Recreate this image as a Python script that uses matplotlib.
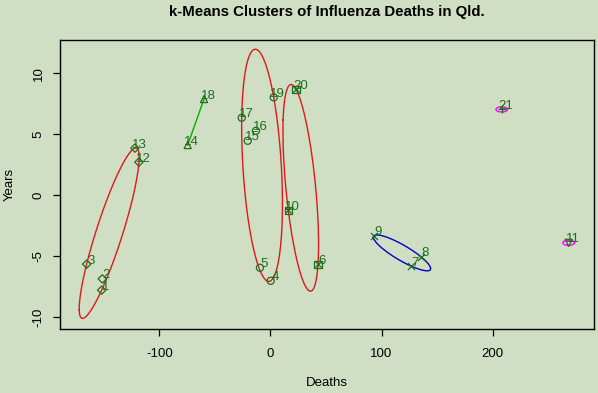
"""k-Means clusters of influenza deaths in Qld (clusplot-style figure)."""

import matplotlib

matplotlib.use("Agg", force=True)
import matplotlib.pyplot as plt
import numpy as np

# point ids, coordinates
point_ids = list(range(1, 22))
deaths = [-152.1, -151.5, -165.6, 0.2, -9.5, 42.8, 126.6, 135.6, 93.2, 16.0, 268.6,
          -118.5, -122.1, -74.6, -20.5, -13.1, -25.9, -59.9, 2.9, 23.0, 208.3]
years = [-7.81, -6.88, -5.67, -7.04, -5.97, -5.67, -5.83, -5.07, -3.34, -1.23, -3.92,
         2.71, 3.86, 4.11, 4.46, 5.28, 6.35, 7.89, 8.03, 8.69, 7.04]
cluster = [5, 5, 5, 1, 1, 7, 4, 4, 4, 7, 6, 5, 5, 2, 1, 1, 1, 2, 1, 7, 3]

# R clusplot conventions: pch = cluster number, ellipse colour by cluster
cluster_marker = {1: "o", 2: "^", 3: "+", 4: "x", 5: "D", 6: "v", 7: "s"}
cluster_colour = {1: "#dd1a1a", 2: "#00b000", 3: "magenta", 4: "#0000cc",
                  5: "#dd1a1a", 6: "magenta", 7: "#dd1a1a"}

BG = "#d0dec4"
PT = "#1f6e1f"


def mvee(points, tol=1e-6, max_iter=5000):
    """Minimum volume enclosing ellipse (Khachiyan), returns centre and shape matrix."""
    n, d = points.shape
    q = np.vstack([points.T, np.ones(n)])
    u = np.ones(n) / n
    for _ in range(max_iter):
        x = q @ np.diag(u) @ q.T
        m = np.einsum("ij,ji->i", q.T @ np.linalg.inv(x), q)
        j = np.argmax(m)
        step = (m[j] - d - 1.0) / ((d + 1.0) * (m[j] - 1.0))
        new_u = (1 - step) * u
        new_u[j] += step
        err = np.linalg.norm(new_u - u)
        u = new_u
        if err < tol:
            break
    c = u @ points
    a = np.linalg.inv(points.T @ np.diag(u) @ points - np.outer(c, c)) / d
    # make sure every point sits inside
    diff = points - c
    scale = np.max(np.einsum("ij,jk,ik->i", diff, a, diff))
    return c, a / max(scale, 1.0)


def ellipse_path(c, a, n=200):
    vals, vecs = np.linalg.eigh(a)
    t = np.linspace(0, 2 * np.pi, n)
    circ = np.vstack([np.cos(t) / np.sqrt(vals[0]), np.sin(t) / np.sqrt(vals[1])])
    pts = vecs @ circ
    return c[0] + pts[0], c[1] + pts[1]


plt.rcParams["font.family"] = ["Liberation Sans", "DejaVu Sans"]
plt.rcParams["axes.unicode_minus"] = False
fig = plt.figure(figsize=(5.98, 3.93), dpi=100, facecolor=BG)
ax = fig.add_axes([60 / 598, 64 / 393, 534 / 598, 289 / 393], facecolor=BG)

x = np.array(deaths)
y = np.array(years)
cl = np.array(cluster)
xspan = x.max() - x.min()
yspan = y.max() - y.min()

for k in sorted(set(cluster)):
    sel = cl == k
    pts = np.column_stack([x[sel], y[sel]])
    col = cluster_colour[k]
    if len(pts) == 1:
        t = np.linspace(0, 2 * np.pi, 100)
        ax.plot(pts[0, 0] + 0.012 * xspan * np.cos(t), pts[0, 1] + 0.013 * yspan * np.sin(t),
                color=col, lw=1.0)
    elif len(pts) == 2:
        ax.plot(pts[:, 0], pts[:, 1], color=col, lw=1.0)
    else:
        c, a = mvee(pts)
        ex, ey = ellipse_path(c, a)
        ax.plot(ex, ey, color=col, lw=1.0)

for k in sorted(set(cluster)):
    sel = cl == k
    mk = cluster_marker[k]
    filled = mk in ("+", "x")
    ax.scatter(x[sel], y[sel], marker=mk, s=26 if mk != "D" else 18,
               facecolors=PT if filled else "none",
               edgecolors=PT, linewidths=0.9, zorder=3)
    if k == 7:
        ax.scatter(x[sel], y[sel], marker="x", s=20, c=PT, linewidths=0.9, zorder=3)

for pid, px, py in zip(point_ids, deaths, years):
    ax.annotate(str(pid), (px, py), xytext=(3, 2.5), textcoords="offset points",
                ha="center", va="center", fontsize=9.5, color=PT)

ax.set_xlim(-189.6, 291.4)
ax.set_ylim(-11.0, 12.74)
ax.set_xticks([-100, 0, 100, 200])
ax.set_yticks([-10, -5, 0, 5, 10])
ax.set_yticklabels(["-10", "-5", "0", "5", "10"], rotation=90, va="center")
ax.tick_params(length=5, width=0.9, labelsize=9.5, pad=9)
ax.tick_params(axis="y", pad=6)
for sp in ax.spines.values():
    sp.set_linewidth(1.0)
    sp.set_color("black")

ax.set_xlabel("Deaths", fontsize=9.5, labelpad=12)
ax.set_ylabel("Years", fontsize=9.5, labelpad=12)
fig.text(327 / 598, 1 - 12 / 393, "k-Means Clusters of Influenza Deaths in Qld.",
         ha="center", va="center", fontsize=10.8, fontweight="bold")

fig.savefig("out.png", dpi=100, facecolor=BG)
